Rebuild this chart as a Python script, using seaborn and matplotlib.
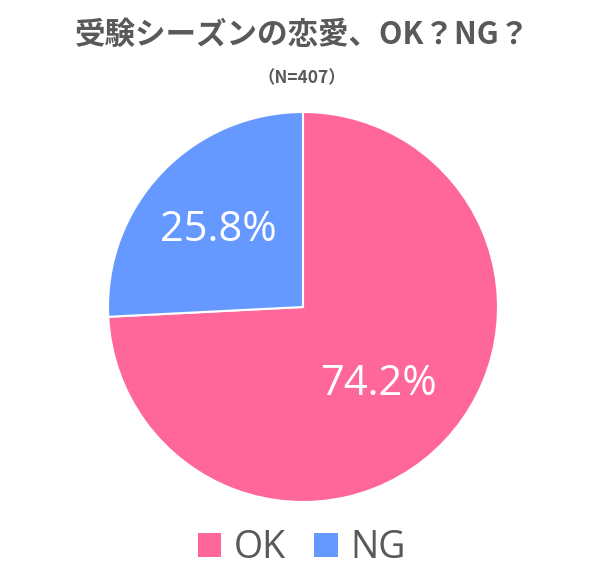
import matplotlib
matplotlib.use("Agg")
import matplotlib.pyplot as plt
import seaborn as sns
from matplotlib.patches import Patch

# data
categories = ["OK", "NG"]
shares = [74.2, 25.8]
colors = ["#FF6699", "#6699FF"]
title = "受験シーズンの恋愛、OK？NG？"
subtitle = "（N=407）"

sns.set_theme(style="white")
plt.rcParams['font.family'] = ['Noto Sans CJK JP', 'DejaVu Sans']

fig = plt.figure(figsize=(6.04, 5.81), dpi=100)
ax = fig.add_axes([108 / 604, 79 / 581, 390 / 604, 390 / 581])

wedges, texts, autotexts = ax.pie(
    shares, colors=colors, startangle=90, counterclock=False,
    autopct="%.1f%%", pctdistance=0.57, radius=1.0,
    wedgeprops=dict(edgecolor="white", linewidth=1.5),
    textprops=dict(color="white", fontsize=30, family=['Open Sans', 'DejaVu Sans']),
)
# nudge labels a little toward the reference spots
autotexts[0].set_position((autotexts[0].get_position()[0] - 0.025, autotexts[0].get_position()[1]))
autotexts[1].set_position((autotexts[1].get_position()[0] - 0.02, autotexts[1].get_position()[1]))
ax.set_xlim(-1, 1)
ax.set_ylim(-1, 1)
ax.set_aspect("equal")

fig.text(0.5, 1 - 35 / 581, title, ha="center", va="center",
         fontsize=22, fontweight="bold", color="#595959")
fig.text(0.5, 1 - 78 / 581, subtitle, ha="center", va="center",
         fontsize=12.5, fontweight="bold", color="#595959")

handles = [Patch(facecolor=c, edgecolor="none") for c in colors]
fig.legend(handles, categories, loc="center", bbox_to_anchor=(0.5, 1 - 548 / 581),
           ncol=2, frameon=False, handlelength=0.62, handleheight=0.62,
           handletextpad=0.35, columnspacing=0.75, labelcolor="#595959",
           prop=dict(family=['Open Sans', 'DejaVu Sans'], size=27))

fig.savefig("out.png", dpi=100)
